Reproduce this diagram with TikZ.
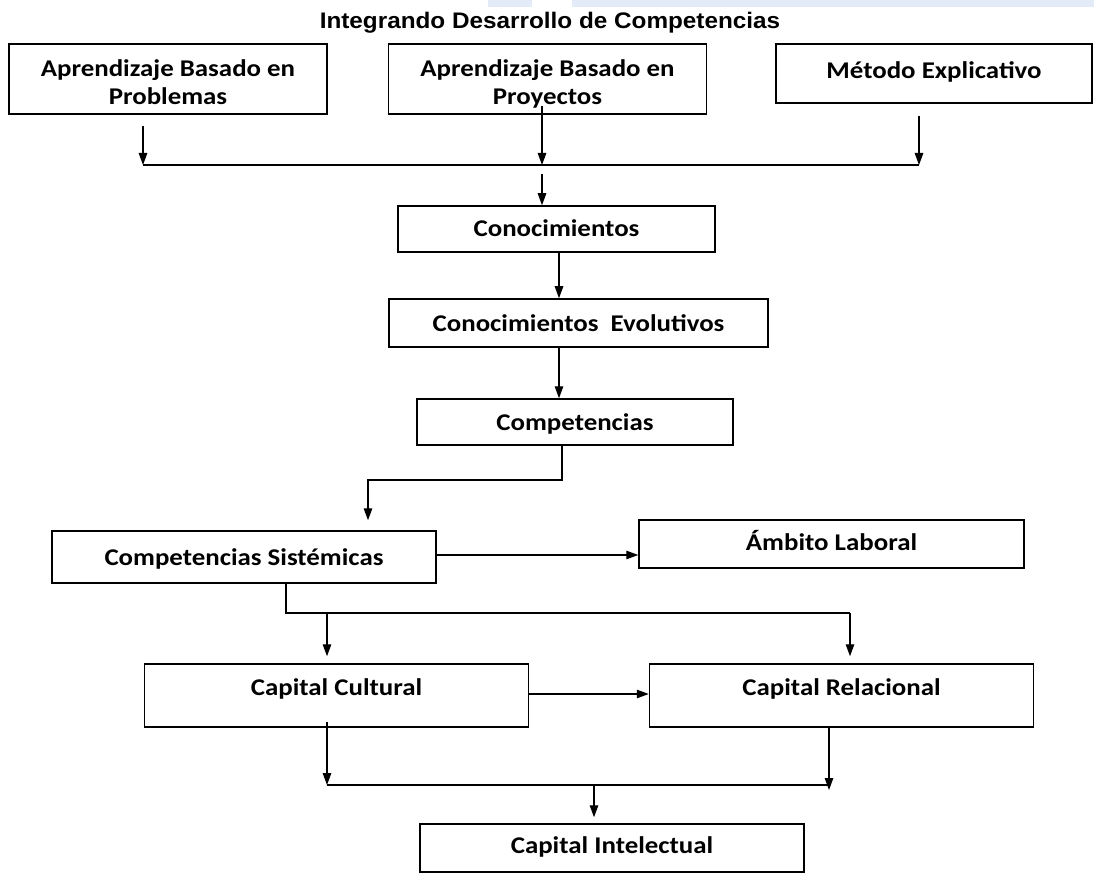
\documentclass[tikz,border=0pt]{standalone}
\usepackage{fontspec}
\setmainfont{Carlito}[FakeStretch=1.12]
\newfontfamily\titlefont{Liberation Sans}[FakeStretch=1.08]
\usetikzlibrary{arrows.meta,calc}
\definecolor{bandblue}{RGB}{226,235,247}
\tikzset{
  box/.style={draw=black, line width=1.5pt, fill=white, inner sep=0pt, align=center,
    font=\bfseries\fontsize{24}{28}\selectfont},
  lbl/.style={inner sep=0pt, anchor=base, font=\bfseries\fontsize{24}{28}\selectfont},
  conn/.style={draw=black, line width=1.25pt},
  arr/.style={conn, -{Triangle[length=12pt,width=8.5pt]}},
}
\begin{document}
\begin{tikzpicture}[x=1pt,y=-1pt]
\useasboundingbox (0,0) rectangle (1094,874);
\fill[bandblue] (488,0) rectangle (532,7);
\fill[bandblue] (572,0) rectangle (1094,7);
\node[inner sep=0pt, anchor=base, font=\titlefont\bfseries\fontsize{22.5}{26}\selectfont] (title) at (550,29) {Integrando Desarrollo de Competencias};

\node[box, minimum width=318, minimum height=70] (b1) at (168,79) {};
\node[lbl] (b1t) at (168,77) {Aprendizaje Basado en};
\node[lbl] (b1u) at (168,105) {Problemas};
\node[box, minimum width=318, minimum height=70] (b2) at (547.5,79) {};
\node[lbl] (b2t) at (547.5,77) {Aprendizaje Basado en};
\node[lbl] (b2u) at (547.5,105) {Proyectos};
\node[box, minimum width=316, minimum height=59] (b3) at (934,73.5) {};
\node[lbl] (b3t) at (934,79) {Método Explicativo};

\node[box, minimum width=317, minimum height=46] (k1) at (556.5,229) {};
\node[lbl] (k1t) at (556.5,237) {Conocimientos};
\node[box, minimum width=379, minimum height=48] (k2) at (578.5,323) {};
\node[lbl] (k2t) at (578.5,331) {Conocimientos\ \ Evolutivos};
\node[box, minimum width=316, minimum height=46] (k3) at (575,422) {};
\node[lbl] (k3t) at (575,430) {Competencias};

\node[box, minimum width=384, minimum height=52] (s) at (244,557) {};
\node[lbl] (st) at (244,565) {Competencias Sistémicas};
\node[box, minimum width=385, minimum height=48] (a) at (831.5,544) {};
\node[lbl] (at) at (831.5,550) {Ámbito Laboral};

\node[box, minimum width=384, minimum height=63] (cc) at (336.5,695.5) {};
\node[lbl] (cct) at (336.5,695) {Capital Cultural};
\node[box, minimum width=384, minimum height=63] (cr) at (841.5,695.5) {};
\node[lbl] (crt) at (841.5,695) {Capital Relacional};
\node[box, minimum width=384, minimum height=48] (ci) at (612,848) {};
\node[lbl] (cit) at (612,853) {Capital Intelectual};

% merge of the three methods
\coordinate (m1) at (143,165);
\coordinate (m2) at (542,165);
\coordinate (m3) at (919,165);
\draw[arr] ([yshift=-11pt]b1.south -| m1) -- (m1);
\draw[arr] ([yshift=9pt]b2.south -| m2) -- (m2);
\draw[arr] ([yshift=-12pt]b3.south -| m3) -- (m3);
\draw[conn] (m1) -- (m3);
\draw[arr] ([yshift=-9pt]m2) -- (m2 |- k1.north);

\coordinate (v1) at (559,0);
\draw[arr] (k1.south -| v1) -- (k2.north -| v1);
\draw[arr] (k2.south -| v1) -- (k3.north -| v1);

\coordinate (c1) at (562,480);
\coordinate (c2) at (368,480);
\draw[arr] (k3.south -| c1) -- (c1) -- (c2) -- ([yshift=10pt]s.north -| c2);

\draw[arr] (s.east |- 0,555) -- (a.west |- 0,555);

\coordinate (d0) at (286,613);
\coordinate (d1) at (327,613);
\coordinate (d2) at (850,613);
\draw[conn] (s.south -| d0) -- (d0) -- (d2);
\draw[arr] (d1) -- ([yshift=7pt]cc.north -| d1);
\draw[arr] (d2) -- ([yshift=7pt]cr.north -| d2);

\draw[arr] (cc.east |- 0,694) -- (cr.west |- 0,694);

\coordinate (e1) at (327,785);
\coordinate (e2) at (829,785);
\coordinate (e3) at (594,785);
\draw[arr] ([yshift=6pt]cc.south -| e1) -- (e1);
\draw[arr] (cr.south -| e2) -- ([yshift=-5pt]e2);
\draw[conn] (e1) -- (e2);
\draw[arr] (e3) -- ([yshift=6pt]ci.north -| e3);
\end{tikzpicture}
\end{document}
